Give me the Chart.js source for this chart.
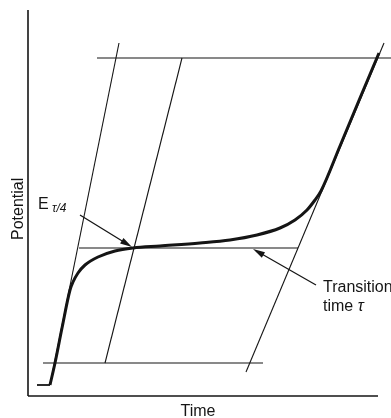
<!DOCTYPE html>
<html>
<head>
<meta charset="utf-8">
<script src="https://cdn.jsdelivr.net/npm/chart.js@4/dist/chart.umd.min.js"></script>
<style>
html, body { margin: 0; padding: 0; background: #fff; }
canvas { display: block; }
</style>
</head>
<body>
<canvas id="chronoChart" width="391" height="418"></canvas>
<script>
// Chronopotentiogram - potential vs time with tangent construction

// Axis ranges (arbitrary units)
const timeMax = 350;
const potentialMax = 386;

// Potential-time trace (thick curve)
const traceTime = [22, 27, 34, 42, 45, 50, 57, 70, 87, 105, 132, 172, 202, 229, 252, 267, 279, 287, 293, 312, 332, 351];
const tracePotential = [11, 33, 68, 106, 114, 123, 131, 139, 145, 148, 150, 153, 156, 161, 168, 176, 186, 196, 205, 250, 298, 343];

// Rest potential before the current step
const footTime = [9, 22];
const footPotential = [11, 11];

// Horizontal construction levels
const upperLevelTime = [69, 363];
const upperLevelPotential = [338, 338];
const quarterLevelTime = [51, 270];
const quarterLevelPotential = [148, 148];
const lowerLevelTime = [15, 235];
const lowerLevelPotential = [33, 33];

// Tangent lines
const tangentStartTime = [22, 91];
const tangentStartPotential = [11, 353];
const tangentMidTime = [77, 154];
const tangentMidPotential = [33, 338];
const tangentEndTime = [218, 356];
const tangentEndPotential = [24, 353];

// Axis lines
const timeAxisTime = [0, timeMax];
const timeAxisPotential = [0, 0];
const potentialAxisTime = [0, 0];
const potentialAxisPotential = [0, potentialMax];

// Annotation arrows: tail -> tip, in data units
const arrowQuarter = { from: [52, 181], to: [104, 149] };
const arrowTransition = { from: [288, 111], to: [225, 147] };

const INK = '#151515';
const FONT = '"Liberation Sans", Arial, sans-serif';

function toPoints(xs, ys) {
    return xs.map((x, i) => ({ x: x, y: ys[i] }));
}

function lineSet(xs, ys, width, extra) {
    return Object.assign({
        data: toPoints(xs, ys),
        showLine: true,
        borderColor: INK,
        borderWidth: width,
        pointRadius: 0,
        tension: 0,
        clip: false
    }, extra || {});
}

// Draws arrows and text labels on top of the datasets
const labelPlugin = {
    id: 'chronoLabels',
    afterDatasetsDraw(chart) {
        const ctx = chart.ctx;
        const xs = chart.scales.x;
        const ys = chart.scales.y;
        const area = chart.chartArea;

        function px(p) {
            return [xs.getPixelForValue(p[0]), ys.getPixelForValue(p[1])];
        }

        function drawArrow(arrow) {
            const a = px(arrow.from);
            const b = px(arrow.to);
            const ang = Math.atan2(b[1] - a[1], b[0] - a[0]);
            const len = 12, half = 3.2;
            ctx.save();
            ctx.strokeStyle = INK;
            ctx.fillStyle = INK;
            ctx.lineWidth = 1.3;
            ctx.beginPath();
            ctx.moveTo(a[0], a[1]);
            ctx.lineTo(b[0] - Math.cos(ang) * len * 0.8, b[1] - Math.sin(ang) * len * 0.8);
            ctx.stroke();
            ctx.beginPath();
            ctx.moveTo(b[0], b[1]);
            ctx.lineTo(b[0] - Math.cos(ang) * len + Math.sin(ang) * half,
                       b[1] - Math.sin(ang) * len - Math.cos(ang) * half);
            ctx.lineTo(b[0] - Math.cos(ang) * len - Math.sin(ang) * half,
                       b[1] - Math.sin(ang) * len + Math.cos(ang) * half);
            ctx.closePath();
            ctx.fill();
            ctx.restore();
        }

        drawArrow(arrowQuarter);
        drawArrow(arrowTransition);

        ctx.save();
        ctx.fillStyle = INK;
        ctx.textBaseline = 'alphabetic';
        ctx.textAlign = 'left';

        // E tau/4 label
        const eLabel = px([10, 187]);
        ctx.font = '16px ' + FONT;
        ctx.fillText('E', eLabel[0], eLabel[1]);
        ctx.font = 'italic 12px ' + FONT;
        ctx.fillText('τ/4', eLabel[0] + 14, eLabel[1] + 3);

        // Transition time label
        const tLabel = px([295, 104]);
        ctx.font = '16px ' + FONT;
        ctx.fillText('Transition', tLabel[0], tLabel[1]);
        ctx.fillText('time ', tLabel[0], tLabel[1] + 19);
        const w = ctx.measureText('time ').width;
        ctx.font = 'italic 16px ' + FONT;
        ctx.fillText('τ', tLabel[0] + w, tLabel[1] + 19);

        // Axis titles
        ctx.font = '16px ' + FONT;
        ctx.textAlign = 'center';
        ctx.fillText('Time', (area.left + area.right) / 2 - 5, area.bottom + 20);

        ctx.translate(area.left - 5, area.bottom - 156);
        ctx.rotate(-Math.PI / 2);
        ctx.textAlign = 'left';
        ctx.fillText('Potential', 0, 0);
        ctx.restore();
    }
};

new Chart(document.getElementById('chronoChart'), {
    type: 'scatter',
    data: {
        datasets: [
            lineSet(timeAxisTime, timeAxisPotential, 1.6),
            lineSet(potentialAxisTime, potentialAxisPotential, 1.6),
            lineSet(upperLevelTime, upperLevelPotential, 1.1),
            lineSet(quarterLevelTime, quarterLevelPotential, 1.1),
            lineSet(lowerLevelTime, lowerLevelPotential, 1.1),
            lineSet(tangentStartTime, tangentStartPotential, 1.1),
            lineSet(tangentMidTime, tangentMidPotential, 1.1),
            lineSet(tangentEndTime, tangentEndPotential, 1.1),
            lineSet(footTime, footPotential, 1.8),
            lineSet(traceTime, tracePotential, 3, { cubicInterpolationMode: 'monotone' })
        ]
    },
    options: {
        responsive: false,
        animation: false,
        layout: { padding: { left: 28, right: 13, top: 10, bottom: 22 } },
        scales: {
            x: { type: 'linear', min: 0, max: timeMax, display: false },
            y: { type: 'linear', min: 0, max: potentialMax, display: false }
        },
        plugins: {
            legend: { display: false },
            tooltip: { enabled: false }
        }
    },
    plugins: [labelPlugin]
});
</script>
</body>
</html>
